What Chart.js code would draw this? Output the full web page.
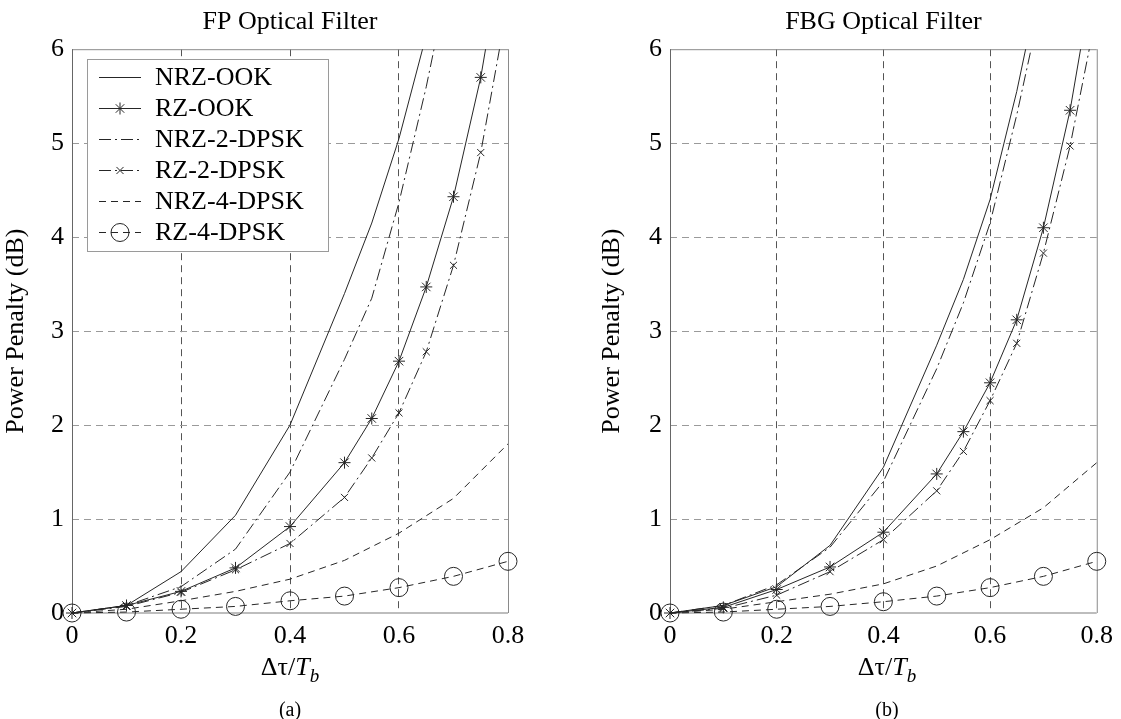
<!DOCTYPE html>
<html>
<head>
<meta charset="utf-8">
<title>Power penalty vs DGD</title>
<script src="https://cdn.jsdelivr.net/npm/chart.js@4.4.1/dist/chart.umd.min.js"></script>
<style>
  body { margin: 0; background: #fff; }
  #wrap { position: relative; width: 1121px; height: 719px; font-family: "Liberation Serif", "DejaVu Serif", serif; color: #000; }
  canvas { position: absolute; top: 0; }
  .xlabel { position: absolute; top: 652px; width: 200px; font-size: 26px; line-height: 30px; text-align: center; }
  .xlabel sub { font-size: 19px; font-style: italic; vertical-align: -7px; line-height: 0; }
  .caption { position: absolute; top: 698px; width: 100px; font-size: 20px; line-height: 22px; text-align: center; }
</style>
</head>
<body>
<div id="wrap">
  <canvas id="fp" width="560" height="719" style="left:0"></canvas>
  <canvas id="fbg" width="561" height="719" style="left:560px"></canvas>
  <div class="xlabel" style="left:190px">&Delta;&tau;/<i>T</i><sub>b</sub></div>
  <div class="xlabel" style="left:787px">&Delta;&tau;/<i>T</i><sub>b</sub></div>
  <div class="caption" style="left:240px">(a)</div>
  <div class="caption" style="left:837px">(b)</div>
</div>
<script>
// x positions (Δτ/Tb) - the marker curves are sampled finer near the steep part
const xFine = [0, 0.1, 0.2, 0.3, 0.4, 0.5, 0.55, 0.6, 0.65, 0.7, 0.75, 0.8];
const xCoarse = [0, 0.1, 0.2, 0.3, 0.4, 0.5, 0.6, 0.7, 0.8];

const xTicks = [0, 0.2, 0.4, 0.6, 0.8];
const xTickLabels = ['0', '0.2', '0.4', '0.6', '0.8'];
const yTicks = [0, 1, 2, 3, 4, 5, 6];
const yTickLabels = ['0', '1', '2', '3', '4', '5', '6'];

const seriesNames = ['NRZ-OOK', 'RZ-OOK', 'NRZ-2-DPSK', 'RZ-2-DPSK', 'NRZ-4-DPSK', 'RZ-4-DPSK'];

// (a) FP optical filter, power penalty in dB
const fpNrzOok  = [0, 0.08, 0.44, 1.04, 2.0, 3.4, 4.15, 5.05, 6.15, 7.5];
const fpRzOok   = [0, 0.08, 0.23, 0.48, 0.92, 1.6, 2.07, 2.68, 3.47, 4.43, 5.7, 7.4];
const fpNrz2    = [0, 0.08, 0.28, 0.68, 1.5, 2.7, 3.35, 4.37, 5.6, 7.0];
const fpRz2     = [0, 0.07, 0.22, 0.46, 0.74, 1.23, 1.65, 2.13, 2.78, 3.7, 4.9, 6.5];
const fpNrz4    = [0, 0.04, 0.13, 0.23, 0.36, 0.56, 0.85, 1.22, 1.8];
const fpRz4     = [0, 0.01, 0.04, 0.07, 0.13, 0.18, 0.27, 0.39, 0.55];

// (b) FBG optical filter
const fbgNrzOok = [0, 0.08, 0.28, 0.72, 1.55, 2.85, 3.55, 4.4, 5.55, 6.9];
const fbgRzOok  = [0, 0.06, 0.25, 0.49, 0.86, 1.48, 1.93, 2.45, 3.12, 4.1, 5.35, 7.0];
const fbgNrz2   = [0, 0.08, 0.3, 0.7, 1.4, 2.6, 3.3, 4.15, 5.3, 6.6];
const fbgRz2    = [0, 0.05, 0.19, 0.44, 0.78, 1.3, 1.72, 2.26, 2.87, 3.83, 4.97, 6.4];
const fbgNrz4   = [0, 0.04, 0.12, 0.2, 0.31, 0.5, 0.78, 1.12, 1.6];
const fbgRz4    = [0, 0.01, 0.04, 0.07, 0.12, 0.18, 0.27, 0.39, 0.55];

const seriesX = [xFine, xFine, xFine, xFine, xCoarse, xCoarse];

const FONT = '"Liberation Serif", "Times New Roman", serif';
const LINE = '#262626';
const DASHDOT = [12, 4, 2, 4];
const DASH = [7, 5];
const lineStyles = [
  { dash: [], point: false, r: 0 },
  { dash: [], point: 'star', r: 6 },
  { dash: DASHDOT, point: false, r: 0 },
  { dash: DASHDOT, point: 'crossRot', r: 5 },
  { dash: DASH, point: false, r: 0 },
  { dash: DASH, point: 'circle', r: 9 }
];

function pairs(xs, ys) {
  return ys.map((y, i) => ({ x: xs[i], y: y }));
}

function buildDatasets(values) {
  return values.map((ys, i) => ({
    label: seriesNames[i],
    data: pairs(seriesX[i], ys),
    borderColor: LINE,
    borderWidth: 1,
    borderDash: lineStyles[i].dash,
    pointStyle: lineStyles[i].point,
    pointRadius: lineStyles[i].r,
    pointBorderColor: LINE,
    pointBackgroundColor: 'rgba(0,0,0,0)',
    pointBorderWidth: 1,
    tension: 0,
    fill: false,
    // let the markers at the origin spill over the frame, but cut curves at 6 dB
    clip: { left: 12, right: 12, top: 0, bottom: 12 }
  }));
}

// frame around the plot area (MATLAB "box on")
const framePlugin = {
  id: 'frame',
  beforeDatasetsDraw(chart) {
    const { ctx, chartArea: a } = chart;
    ctx.save();
    ctx.lineWidth = 1;
    ctx.strokeStyle = '#8a8a8a';
    ctx.beginPath();
    ctx.moveTo(a.left, a.top + 0.5);
    ctx.lineTo(a.right, a.top + 0.5);
    ctx.moveTo(a.right + 0.5, a.top);
    ctx.lineTo(a.right + 0.5, a.bottom);
    ctx.stroke();
    ctx.strokeStyle = '#666';
    ctx.beginPath();
    ctx.moveTo(a.left + 0.5, a.top);
    ctx.lineTo(a.left + 0.5, a.bottom);
    ctx.stroke();
    ctx.strokeStyle = '#bdbdbd';
    ctx.lineWidth = 2;
    ctx.beginPath();
    ctx.moveTo(a.left, a.bottom);
    ctx.lineTo(a.right, a.bottom);
    ctx.stroke();
    ctx.restore();
  }
};

// legend drawn by hand so the samples show dash pattern + marker like the original
const boxLegend = {
  id: 'boxLegend',
  afterDraw(chart, args, opts) {
    if (!opts.show) return;
    const ctx = chart.ctx;
    const x0 = 87, y0 = 59, w = 241, h = 192;
    ctx.save();
    ctx.fillStyle = '#fff';
    ctx.fillRect(x0, y0, w, h);
    ctx.strokeStyle = '#9a9a9a';
    ctx.lineWidth = 1;
    ctx.strokeRect(x0 + 0.5, y0 + 0.5, w, h);
    ctx.font = '26px ' + FONT;
    ctx.textBaseline = 'middle';
    chart.data.datasets.forEach((ds, i) => {
      const y = y0 + 18 + i * 31;
      ctx.strokeStyle = LINE;
      ctx.lineWidth = 1;
      ctx.setLineDash(ds.borderDash);
      ctx.beginPath();
      ctx.moveTo(99, y + 0.5);
      ctx.lineTo(141, y + 0.5);
      ctx.stroke();
      ctx.setLineDash([]);
      if (ds.pointStyle) {
        ctx.fillStyle = 'rgba(0,0,0,0)';
        Chart.helpers.drawPoint(ctx, { pointStyle: ds.pointStyle, radius: ds.pointRadius, borderWidth: 1, rotation: 0 }, 120, y + 0.5);
      }
      ctx.fillStyle = '#000';
      ctx.fillText(ds.label, 155, y + 1);
    });
    ctx.restore();
  }
};

function makeChart(id, title, values, opt) {
  const hideEdge = (edges, color) => (c) =>
    (c.tick && edges.includes(c.tick.value)) ? 'rgba(0,0,0,0)' : color;

  return new Chart(document.getElementById(id), {
    type: 'line',
    data: { datasets: buildDatasets(values) },
    plugins: [framePlugin, boxLegend],
    options: {
      responsive: false,
      animation: false,
      events: [],
      layout: { padding: { top: 0, left: 0, right: opt.padRight, bottom: 0 } },
      plugins: {
        legend: { display: false },
        tooltip: { enabled: false },
        title: {
          display: true,
          text: title,
          fullSize: false,
          color: '#000',
          font: { family: FONT, size: 26, weight: 'normal' },
          padding: { top: 7, bottom: 11 }
        },
        boxLegend: { show: opt.legend }
      },
      scales: {
        x: {
          type: 'linear',
          min: 0,
          max: 0.8,
          afterBuildTicks: (s) => { s.ticks = xTicks.map(v => ({ value: v })); },
          afterFit: (s) => { s.height = 106; },
          ticks: {
            callback: (v, i) => xTickLabels[i],
            color: '#000',
            font: { family: FONT, size: 26 },
            padding: 8,
            maxRotation: 0
          },
          grid: {
            drawTicks: false,
            color: hideEdge([0, 0.8], '#555'),
            lineWidth: 1
          },
          border: { display: false, dash: DASH }
        },
        y: {
          type: 'linear',
          min: 0,
          max: 6,
          afterBuildTicks: (s) => { s.ticks = yTicks.map(v => ({ value: v })); },
          afterFit: (s) => { s.width = opt.yWidth; },
          ticks: {
            callback: (v, i) => yTickLabels[i],
            color: '#000',
            font: { family: FONT, size: 26 },
            padding: 8
          },
          title: {
            display: true,
            text: 'Power Penalty (dB)',
            color: '#000',
            font: { family: FONT, size: 26 },
            padding: { top: opt.titlePad, bottom: 0 }
          },
          grid: {
            drawTicks: false,
            color: hideEdge([0, 6], '#9a9a9a'),
            lineWidth: 1
          },
          border: { display: false, dash: DASH }
        }
      }
    }
  });
}

// grid lines are dashed in the original
Chart.defaults.scale.grid.tickBorderDash = [];
Chart.defaults.scales.linear.border = Chart.defaults.scales.linear.border || {};

const fpChart = makeChart('fp', 'FP Optical Filter',
  [fpNrzOok, fpRzOok, fpNrz2, fpRz2, fpNrz4, fpRz4],
  { yWidth: 72, padRight: 52, titlePad: 1, legend: true });

const fbgChart = makeChart('fbg', 'FBG Optical Filter',
  [fbgNrzOok, fbgRzOok, fbgNrz2, fbgRz2, fbgNrz4, fbgRz4],
  { yWidth: 110, padRight: 16, titlePad: 37, legend: false });
</script>
</body>
</html>
